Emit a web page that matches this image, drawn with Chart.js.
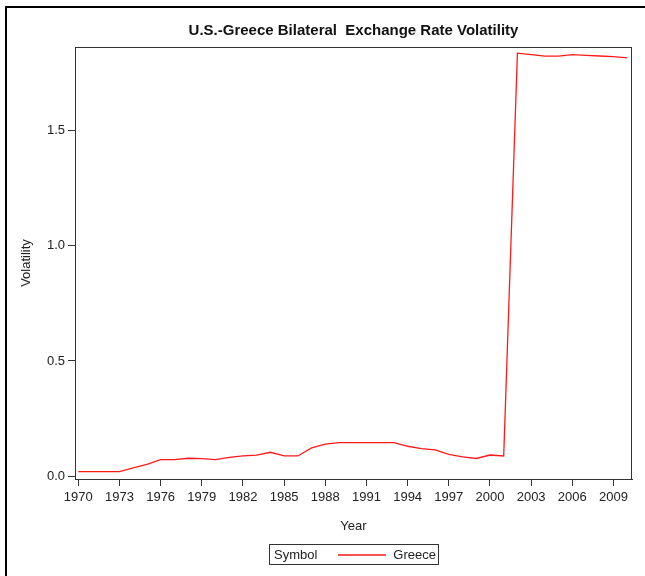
<!DOCTYPE html>
<html>
<head>
<meta charset="utf-8">
<script src="https://cdn.jsdelivr.net/npm/chart.js@4.4.1/dist/chart.umd.min.js"></script>
<style>
	html, body { margin: 0; padding: 0; background: #fff; }
	#wrap { width: 645px; height: 576px; }
</style>
</head>
<body>
<div id="wrap"><canvas id="c" width="645" height="576"></canvas></div>
<script>
'use strict';

var years = [
	1970, 1971, 1972, 1973, 1974, 1975, 1976, 1977, 1978, 1979,
	1980, 1981, 1982, 1983, 1984, 1985, 1986, 1987, 1988, 1989,
	1990, 1991, 1992, 1993, 1994, 1995, 1996, 1997, 1998, 1999,
	2000, 2001, 2002, 2003, 2004, 2005, 2006, 2007, 2008, 2009, 2010
];
var greece = [
	0.020, 0.020, 0.020, 0.020, 0.036, 0.051, 0.072, 0.072, 0.078, 0.076,
	0.072, 0.082, 0.088, 0.092, 0.104, 0.088, 0.088, 0.123, 0.139, 0.146,
	0.146, 0.146, 0.146, 0.146, 0.130, 0.120, 0.114, 0.095, 0.084, 0.077,
	0.092, 0.088, 1.835, 1.829, 1.822, 1.822, 1.829, 1.826, 1.823, 1.820, 1.815
];
var xTicks = [1970, 1973, 1976, 1979, 1982, 1985, 1988, 1991, 1994, 1997, 2000, 2003, 2006, 2009];
var yTicks = [0, 0.5, 1.0, 1.5];

var titleText = 'U.S.-Greece Bilateral  Exchange Rate Volatility',
	legendTitle = 'Symbol',
	seriesName = 'Greece',
	lineColor = '#ff1a1a',
	inkColor = '#222',
	narrow = '"Liberation Sans Narrow", "Liberation Sans", Arial, sans-serif',
	plain = '"Liberation Sans", Arial, sans-serif';

// title, plot box, legend and the page frame
var decorPlugin = {
	id: 'decor',
	afterDraw: function (chart) {
		var ctx = chart.ctx,
			area = chart.chartArea,
			cx = (area.left + area.right) / 2;
		ctx.save();

		// page frame (top and left only)
		ctx.strokeStyle = '#000';
		ctx.lineWidth = 2;
		ctx.beginPath();
		ctx.moveTo(645, 7);
		ctx.lineTo(6, 7);
		ctx.lineTo(6, 576);
		ctx.stroke();

		// plot box
		ctx.strokeStyle = '#333';
		ctx.lineWidth = 1;
		ctx.strokeRect(Math.round(area.left) + 0.5, Math.round(area.top) + 0.5,
			Math.round(area.right - area.left) - 1, Math.round(area.bottom - area.top));

		// title
		ctx.fillStyle = '#111';
		ctx.font = 'bold 15px ' + plain;
		ctx.textAlign = 'center';
		ctx.textBaseline = 'middle';
		ctx.fillText(titleText, cx, 31);

		// legend box
		var bx = 269, by = 544, bw = 169, bh = 20;
		ctx.strokeStyle = '#333';
		ctx.strokeRect(bx + 0.5, by + 0.5, bw, bh);
		ctx.font = '13px ' + narrow;
		ctx.fillStyle = inkColor;
		ctx.textAlign = 'left';
		ctx.fillText(legendTitle, bx + 5, by + bh / 2 + 1);
		ctx.strokeStyle = lineColor;
		ctx.lineWidth = 1.3;
		ctx.beginPath();
		ctx.moveTo(bx + 69, by + bh / 2 + 1);
		ctx.lineTo(bx + 117, by + bh / 2 + 1);
		ctx.stroke();
		ctx.textAlign = 'right';
		ctx.fillText(seriesName, bx + bw - 2, by + bh / 2 + 1);

		ctx.restore();
	}
};

var points = years.map(function (yr, i) {
	return { x: yr, y: greece[i] };
});

new Chart(document.getElementById('c'), {
	type: 'line',
	data: {
		datasets: [{
			label: seriesName,
			data: points,
			borderColor: lineColor,
			borderWidth: 1.3,
			pointRadius: 0,
			tension: 0,
			fill: false
		}]
	},
	options: {
		responsive: false,
		animation: false,
		events: [],
		layout: {
			padding: { top: 47, right: 13, bottom: 37, left: 0 }
		},
		plugins: {
			legend: { display: false },
			title: { display: false },
			tooltip: { enabled: false }
		},
		scales: {
			x: {
				type: 'linear',
				min: 1969.76,
				max: 2010.35,
				afterBuildTicks: function (scale) {
					scale.ticks = xTicks.map(function (v) { return { value: v }; });
				},
				afterFit: function (scale) {
					scale.height = 60;
				},
				ticks: {
					autoSkip: false,
					maxRotation: 0,
					padding: 4,
					color: inkColor,
					font: { family: narrow, size: 13 },
					callback: function (v) { return String(v); }
				},
				grid: {
					drawOnChartArea: false,
					drawTicks: true,
					tickLength: 7,
					color: '#333'
				},
				border: { display: true, color: '#333', width: 1 },
				title: {
					display: true,
					text: 'Year',
					color: inkColor,
					font: { family: narrow, size: 13 },
					padding: { top: 0, bottom: 5 }
				}
			},
			y: {
				min: -0.012,
				max: 1.862,
				afterBuildTicks: function (scale) {
					scale.ticks = yTicks.map(function (v) { return { value: v }; });
				},
				afterFit: function (scale) {
					scale.width = 75;
				},
				ticks: {
					padding: 3,
					color: inkColor,
					font: { family: narrow, size: 13 },
					callback: function (v) { return v.toFixed(1); }
				},
				grid: {
					drawOnChartArea: false,
					drawTicks: true,
					tickLength: 7,
					color: '#333'
				},
				border: { display: true, color: '#333', width: 1 },
				title: {
					display: true,
					text: 'Volatility',
					color: inkColor,
					font: { family: narrow, size: 13 },
					padding: { top: 19, bottom: 0 }
				}
			}
		}
	},
	plugins: [decorPlugin]
});
</script>
</body>
</html>
